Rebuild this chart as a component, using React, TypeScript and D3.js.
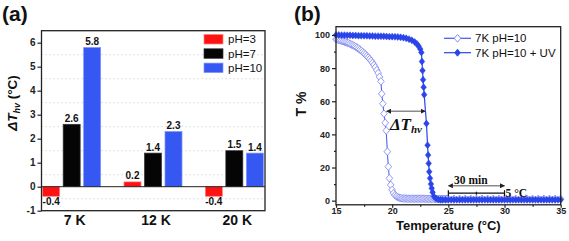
import React, { useRef, useEffect } from "react";
import * as d3 from "d3";

// panel (a) data
const categories = ["7 K", "12 K", "20 K"];
const phLabels = ["pH=3", "pH=7", "pH=10"];
const ph3 = [-0.4, 0.2, -0.4];
const ph7 = [2.6, 1.4, 1.5];
const ph10 = [5.8, 2.3, 1.4];
const barTicks = [-1, 0, 1, 2, 3, 4, 5, 6];
const barGrid = [-0.5, 0.5, 1.5, 2.5, 3.5, 4.5, 5.5];
const barColors = ["#ff1212", "#050505", "#3558f2"];
const barEdges = ["#ff8080", "#333333", "#7d95ff"];

// panel (b) data: [temperature, T%]
const curveLabels = ["7K pH=10", "7K pH=10 + UV"];
const plainCurve: [number, number][] = [
  [15, 97.5], [15.125, 97.3], [15.25, 97], [15.375, 96.8], [15.5, 96.5], [15.625, 96.2],
  [15.75, 95.9], [15.875, 95.6], [16, 95.3], [16.125, 95], [16.25, 94.6], [16.375, 94.2],
  [16.5, 93.8], [16.625, 93.4], [16.75, 92.9], [16.875, 92.4], [17, 91.8], [17.125, 91.2],
  [17.25, 90.5], [17.375, 89.8], [17.5, 89], [17.625, 88.2], [17.75, 87.3], [17.875, 86.4],
  [18, 85.5], [18.125, 84.4], [18.25, 83.2], [18.375, 81.9], [18.5, 80.5], [18.625, 78.8],
  [18.75, 77], [18.875, 74.7], [19, 72], [19.07, 64.5], [19.17, 58.5], [19.27, 52.5],
  [19.38, 47], [19.47, 42.3], [19.57, 29.6], [19.66, 20.5], [19.75, 13.5], [19.87, 9.5],
  [19.99, 6.5], [20.125, 4.5], [20.25, 3.3], [20.375, 2.6], [20.5, 2.1], [20.625, 1.8],
  [20.75, 1.5], [20.875, 1.4], [21, 1.3], [21.125, 1.3], [21.25, 1.3], [21.375, 1.2],
  [21.5, 1.2], [21.625, 1.2], [21.75, 1.2], [21.875, 1.2], [22, 1.2], [22.125, 1.2],
  [22.25, 1.2], [22.375, 1.2], [22.5, 1.2], [22.625, 1.2], [22.75, 1.2], [22.875, 1.2],
  [23, 1.1], [23.125, 1.1], [23.25, 1.1], [23.375, 1.1], [23.5, 1.1], [23.625, 1.1],
  [23.75, 1.1], [23.875, 1.1], [24, 1.1], [24.125, 1.1], [24.25, 1.1], [24.375, 1.1],
  [24.5, 1.1], [24.625, 1.1], [24.75, 1.1], [24.875, 1.1], [25, 1.1], [25.5, 1.1],
  [26, 1.1], [26.5, 1.1], [27, 1.1], [27.5, 1.1], [28, 1.1], [28.5, 1.1],
  [29, 1.1], [29.5, 1.1], [30, 1.1], [30.5, 1.1], [31, 1.1], [31.5, 1.1],
  [32, 1.1], [32.5, 1.1], [33, 1.1], [33.5, 1.1], [34, 1.1], [34.5, 1.1], [35, 1.1],
];
const uvCurve: [number, number][] = [
  [15, 100], [15.25, 100], [15.5, 99.9], [15.75, 99.9], [16, 99.8], [16.25, 99.8],
  [16.5, 99.7], [16.75, 99.7], [17, 99.6], [17.25, 99.6], [17.5, 99.5], [17.75, 99.5],
  [18, 99.4], [18.25, 99.4], [18.5, 99.3], [18.75, 99.3], [19, 99.2], [19.25, 99.2],
  [19.5, 99.1], [19.75, 99], [20, 99], [20.25, 98.9], [20.5, 98.8], [20.75, 98.6],
  [21, 98.4], [21.25, 98], [21.5, 97.5], [21.75, 96.8], [22, 95.8], [22.2, 94.6],
  [22.35, 93.3], [22.5, 91.5], [22.6, 89.5], [22.65, 84], [22.7, 78.5], [22.75, 73],
  [22.8, 68.5], [22.85, 64], [23.05, 46.5], [23.15, 33.5], [23.2, 27.5], [23.25, 22.5],
  [23.3, 17.5], [23.37, 13.5], [23.45, 10], [23.52, 7.5], [23.6, 5], [23.72, 2.5],
  [23.9, 1.2], [24.1, 0.7], [24.3, 0.5], [24.5, 0.5], [24.75, 0.5], [25, 0.5],
  [25.25, 0.5], [25.5, 0.5], [25.75, 0.5], [26, 0.5], [26.25, 0.5], [26.5, 0.5],
  [26.75, 0.5], [27, 0.5], [27.25, 0.5], [27.5, 0.5], [27.75, 0.5], [28, 0.5],
  [28.25, 0.5], [28.5, 0.5], [28.75, 0.5], [29, 0.5], [29.25, 0.5], [29.5, 0.5],
  [29.75, 0.5], [30, 0.5], [30.25, 0.5], [30.5, 0.5], [30.75, 0.5], [31, 0.5],
  [31.25, 0.5], [31.5, 0.5], [31.75, 0.5], [32, 0.5], [32.25, 0.5], [32.5, 0.5],
  [32.75, 0.5], [33, 0.5], [33.25, 0.5], [33.5, 0.5], [33.75, 0.5], [34, 0.5],
  [34.25, 0.5], [34.5, 0.5], [34.75, 0.5], [35, 0.5],
];
const tempTicks = [15, 20, 25, 30, 35];
const tempMinor = [17.5, 22.5, 27.5, 32.5];
const transTicks = [0, 20, 40, 60, 80, 100];
const transMinor = [10, 30, 50, 70, 90];
// annotations, in data units
const deltaArrow = [19.5, 22.95, 54];
const timeBar = [25, 27.5, 30, 4.5, 9];

const SANS = "'Liberation Sans', Arial, sans-serif";
const SERIF = "'Liberation Serif', 'Times New Roman', serif";
const openBlue = "#7680ef";
const fullBlue = "#2a44ea";

const diamond = (w: number, h: number) => `M0,${-h}L${w},0L0,${h}L${-w},0Z`;

const App = () => {
  const svgRef = useRef<SVGSVGElement>(null);

  useEffect(() => {
    const svg = d3.select(svgRef.current);
    svg.selectAll("*").remove();

    const defs = svg.append("defs");
    defs
      .append("marker")
      .attr("id", "ah")
      .attr("viewBox", "0 0 10 10")
      .attr("refX", 9)
      .attr("refY", 5)
      .attr("markerWidth", 5)
      .attr("markerHeight", 5)
      .attr("markerUnits", "userSpaceOnUse")
      .attr("orient", "auto-start-reverse")
      .append("path")
      .attr("d", "M0,0L10,5L0,10Z")
      .attr("fill", "#222");

    // ---------- panel (a) ----------
    const ga = svg.append("g");
    const ya = d3.scaleLinear().domain([-1, 6.5]).range([210.7, 30.7]);
    const xa = d3.scaleBand().domain(categories).range([31, 275]);
    const half = xa.bandwidth() / 2;
    const xs = d3
      .scaleBand()
      .domain(phLabels)
      .range([half - 30.75, half + 30.75])
      .paddingInner(0.17)
      .paddingOuter(0.085);
    const frameA = { l: 41.5, r: 265 };

    ga.selectAll(".grid")
      .data(barGrid)
      .enter()
      .append("line")
      .attr("x1", frameA.l)
      .attr("x2", frameA.r)
      .attr("y1", (d) => ya(d))
      .attr("y2", (d) => ya(d))
      .attr("stroke", "#cfcfcf")
      .attr("stroke-width", 0.8)
      .attr("stroke-dasharray", "1.5,2.5");

    const seriesA = [ph3, ph7, ph10];
    seriesA.forEach((vals, i) => {
      ga.append("g")
        .selectAll("rect")
        .data(vals)
        .enter()
        .append("rect")
        .attr("x", (d, j) => xa(categories[j])! + xs(phLabels[i])!)
        .attr("y", (d) => ya(Math.max(d, 0)))
        .attr("width", xs.bandwidth())
        .attr("height", (d) => Math.abs(ya(d) - ya(0)))
        .attr("fill", barColors[i])
        .attr("stroke", barEdges[i])
        .attr("stroke-width", 0.7);

      ga.append("g")
        .selectAll("text")
        .data(vals)
        .enter()
        .append("text")
        .attr("x", (d, j) => xa(categories[j])! + xs(phLabels[i])! + xs.bandwidth() / 2)
        .attr("y", (d) => (d >= 0 ? ya(d) - 2.5 : ya(d) + 9))
        .attr("text-anchor", "middle")
        .style("font-family", SANS)
        .style("font-size", "10px")
        .style("font-weight", "bold")
        .attr("fill", "#111")
        .text((d) => d.toFixed(1));
    });

    // zero line
    ga.append("line")
      .attr("x1", frameA.l)
      .attr("x2", frameA.r)
      .attr("y1", ya(0))
      .attr("y2", ya(0))
      .attr("stroke", "#222")
      .attr("stroke-width", 1);

    ga.append("rect")
      .attr("x", frameA.l)
      .attr("y", ya(6.5))
      .attr("width", frameA.r - frameA.l)
      .attr("height", ya(-1) - ya(6.5))
      .attr("fill", "none")
      .attr("stroke", "#222")
      .attr("stroke-width", 1.3);

    const axA = ga
      .append("g")
      .attr("transform", `translate(${frameA.l},0)`)
      .call(d3.axisLeft(ya).tickValues(barTicks).tickSize(4).tickPadding(2).tickFormat((d) => String(d)));
    axA.select(".domain").remove();
    axA.selectAll("line").attr("stroke", "#222").attr("stroke-width", 1.2);
    axA.selectAll("text")
      .style("font-family", SANS)
      .style("font-size", "10px")
      .style("font-weight", "bold")
      .attr("fill", "#222");

    const axAx = ga
      .append("g")
      .attr("transform", `translate(0,${ya(-1)})`)
      .call(d3.axisBottom(xa).tickSize(0).tickPadding(4));
    axAx.select(".domain").remove();
    axAx.selectAll("text")
      .attr("dx", 3)
      .style("font-family", SANS)
      .style("font-size", "14px")
      .style("font-weight", "bold")
      .attr("fill", "#111");

    // legend (a)
    phLabels.forEach((lab, i) => {
      const y0 = 34.5 + i * 14.3;
      ga.append("rect")
        .attr("x", 204)
        .attr("y", y0)
        .attr("width", 19)
        .attr("height", 9.5)
        .attr("fill", barColors[i])
        .attr("stroke", barEdges[i])
        .attr("stroke-width", 0.7);
      ga.append("text")
        .attr("x", 228)
        .attr("y", y0 + 8.8)
        .style("font-family", SANS)
        .style("font-size", "11.5px")
        .attr("fill", "#111")
        .text(lab);
    });

    const tA = ga
      .append("text")
      .attr("transform", "translate(16.5,103) rotate(-90)")
      .attr("text-anchor", "middle")
      .style("font-family", SANS)
      .style("font-weight", "bold")
      .style("font-size", "13.5px")
      .attr("fill", "#111");
    tA.append("tspan").style("font-style", "italic").text("ΔT");
    tA.append("tspan").style("font-style", "italic").style("font-size", "9px").attr("dy", 3).text("hv");
    tA.append("tspan").attr("dy", -3).text(" (°C)");

    ga.append("text")
      .attr("x", 2)
      .attr("y", 20.5)
      .style("font-family", SANS)
      .style("font-size", "21px")
      .style("font-weight", "bold")
      .attr("fill", "#111")
      .text("(a)");

    // ---------- panel (b) ----------
    const gb = svg.append("g");
    const xb = d3.scaleLinear().domain([15, 35]).range([336, 560.7]);
    const yb = d3.scaleLinear().domain([-2.5, 105]).range([204.8, 26.7]);

    const line = d3
      .line<[number, number]>()
      .x((d) => xb(d[0]))
      .y((d) => yb(d[1]));

    gb.append("path")
      .datum(plainCurve)
      .attr("d", line)
      .attr("fill", "none")
      .attr("stroke", "#3f55ee")
      .attr("stroke-width", 1);
    gb.append("g")
      .selectAll("path")
      .data(plainCurve)
      .enter()
      .append("path")
      .attr("transform", (d) => `translate(${xb(d[0])},${yb(d[1])})`)
      .attr("d", diamond(3.3, 3.8))
      .attr("fill", "#ffffff")
      .attr("stroke", openBlue)
      .attr("stroke-width", 0.8);

    gb.append("path")
      .datum(uvCurve)
      .attr("d", line)
      .attr("fill", "none")
      .attr("stroke", fullBlue)
      .attr("stroke-width", 1.2);
    gb.append("g")
      .selectAll("path")
      .data(uvCurve)
      .enter()
      .append("path")
      .attr("transform", (d) => `translate(${xb(d[0])},${yb(d[1])})`)
      .attr("d", diamond(2.8, 3.5))
      .attr("fill", fullBlue)
      .attr("stroke", fullBlue)
      .attr("stroke-width", 0.5);

    gb.append("rect")
      .attr("x", xb(15))
      .attr("y", yb(105))
      .attr("width", xb(35) - xb(15))
      .attr("height", yb(-2.5) - yb(105))
      .attr("fill", "none")
      .attr("stroke", "#222")
      .attr("stroke-width", 1.3);

    const axBx = gb
      .append("g")
      .attr("transform", `translate(0,${yb(-2.5)})`)
      .call(d3.axisBottom(xb).tickValues(tempTicks).tickSize(3).tickPadding(0).tickFormat((d) => String(d)));
    axBx.select(".domain").remove();
    gb.append("g")
      .attr("transform", `translate(0,${yb(-2.5)})`)
      .call(d3.axisBottom(xb).tickValues(tempMinor).tickSize(2).tickFormat(() => ""))
      .select(".domain")
      .remove();

    const axBy = gb
      .append("g")
      .attr("transform", `translate(${xb(15)},0)`)
      .call(d3.axisLeft(yb).tickValues(transTicks).tickSize(4).tickPadding(2).tickFormat((d) => String(d)));
    axBy.select(".domain").remove();
    gb.append("g")
      .attr("transform", `translate(${xb(15)},0)`)
      .call(d3.axisLeft(yb).tickValues(transMinor).tickSize(2).tickFormat(() => ""))
      .select(".domain")
      .remove();

    gb.selectAll(".tick line").attr("stroke", "#222").attr("stroke-width", 1.2);
    gb.selectAll(".tick text")
      .style("font-family", SANS)
      .style("font-size", "9px")
      .style("font-weight", "bold")
      .attr("fill", "#222");

    gb.append("text")
      .attr("x", (xb(15) + xb(35)) / 2)
      .attr("y", 229.5)
      .attr("text-anchor", "middle")
      .style("font-family", SANS)
      .style("font-size", "13px")
      .style("font-weight", "bold")
      .attr("fill", "#111")
      .text("Temperature (°C)");

    gb.append("text")
      .attr("transform", "translate(305.5,104) rotate(-90)")
      .attr("text-anchor", "middle")
      .style("font-family", SANS)
      .style("font-size", "14px")
      .style("font-weight", "bold")
      .attr("fill", "#111")
      .text("T %");

    gb.append("text")
      .attr("x", 294)
      .attr("y", 20.5)
      .style("font-family", SANS)
      .style("font-size", "21px")
      .style("font-weight", "bold")
      .attr("fill", "#111")
      .text("(b)");

    // legend (b)
    curveLabels.forEach((lab, i) => {
      const y0 = 38.3 + i * 14.4;
      gb.append("line")
        .attr("x1", 444)
        .attr("x2", 471)
        .attr("y1", y0)
        .attr("y2", y0)
        .attr("stroke", i === 0 ? "#3f55ee" : fullBlue)
        .attr("stroke-width", 1.2);
      gb.append("path")
        .attr("transform", `translate(457.5,${y0})`)
        .attr("d", i === 0 ? diamond(3.3, 3.8) : diamond(2.8, 3.5))
        .attr("fill", i === 0 ? "#fff" : fullBlue)
        .attr("stroke", i === 0 ? openBlue : fullBlue)
        .attr("stroke-width", 0.9);
      gb.append("text")
        .attr("x", 475)
        .attr("y", y0 + 4)
        .style("font-family", SANS)
        .style("font-size", "11.5px")
        .attr("fill", "#111")
        .text(lab);
    });

    // annotation: ΔT_hv
    gb.append("line")
      .attr("x1", xb(deltaArrow[0]))
      .attr("x2", xb(deltaArrow[1]))
      .attr("y1", yb(deltaArrow[2]))
      .attr("y2", yb(deltaArrow[2]))
      .attr("stroke", "#8a8a8a")
      .attr("stroke-width", 1.6)
      .attr("marker-start", "url(#ah)")
      .attr("marker-end", "url(#ah)");
    const tB = gb
      .append("text")
      .attr("x", xb(19.8))
      .attr("y", yb(42.7))
      .style("font-family", SERIF)
      .style("font-weight", "bold")
      .style("font-style", "italic")
      .style("font-size", "17px")
      .attr("fill", "#111");
    tB.append("tspan").text("ΔT");
    tB.append("tspan").attr("dy", 3).style("font-size", "11px").text("hv");

    // annotation: 30 min / 5 °C scale bar
    const [t0, tMid, t1, barLevel, arrowLevel] = timeBar;
    gb.append("line")
      .attr("x1", xb(t0))
      .attr("x2", xb(t1))
      .attr("y1", yb(barLevel))
      .attr("y2", yb(barLevel))
      .attr("stroke", "#111")
      .attr("stroke-width", 1.2);
    [t0, t1].forEach((t) =>
      gb.append("line")
        .attr("x1", xb(t))
        .attr("x2", xb(t))
        .attr("y1", yb(barLevel) - 3)
        .attr("y2", yb(barLevel) + 3)
        .attr("stroke", "#111")
        .attr("stroke-width", 1.2)
    );
    gb.append("line")
      .attr("x1", xb(tMid))
      .attr("x2", xb(tMid))
      .attr("y1", yb(barLevel) - 1.5)
      .attr("y2", yb(barLevel) + 1.5)
      .attr("stroke", "#111")
      .attr("stroke-width", 1.2);
    gb.append("line")
      .attr("x1", xb(t0))
      .attr("x2", xb(t1))
      .attr("y1", yb(arrowLevel))
      .attr("y2", yb(arrowLevel))
      .attr("stroke", "#8a8a8a")
      .attr("stroke-width", 1.4)
      .attr("marker-start", "url(#ah)")
      .attr("marker-end", "url(#ah)");
    gb.append("text")
      .attr("x", xb(27))
      .attr("y", yb(arrowLevel) - 2)
      .attr("text-anchor", "middle")
      .style("font-family", SERIF)
      .style("font-weight", "bold")
      .style("font-size", "11.5px")
      .attr("fill", "#111")
      .text("30 min");
    gb.append("text")
      .attr("x", xb(t1) + 1)
      .attr("y", yb(barLevel) + 3.5)
      .style("font-family", SERIF)
      .style("font-weight", "bold")
      .style("font-size", "11.5px")
      .attr("fill", "#111")
      .text("5 °C");
  }, []);

  return (
    <svg
      ref={svgRef}
      width={569}
      height={241}
      style={{ position: "fixed", left: 0, top: 0, background: "#fff", display: "block" }}
    ></svg>
  );
};

export default App;
